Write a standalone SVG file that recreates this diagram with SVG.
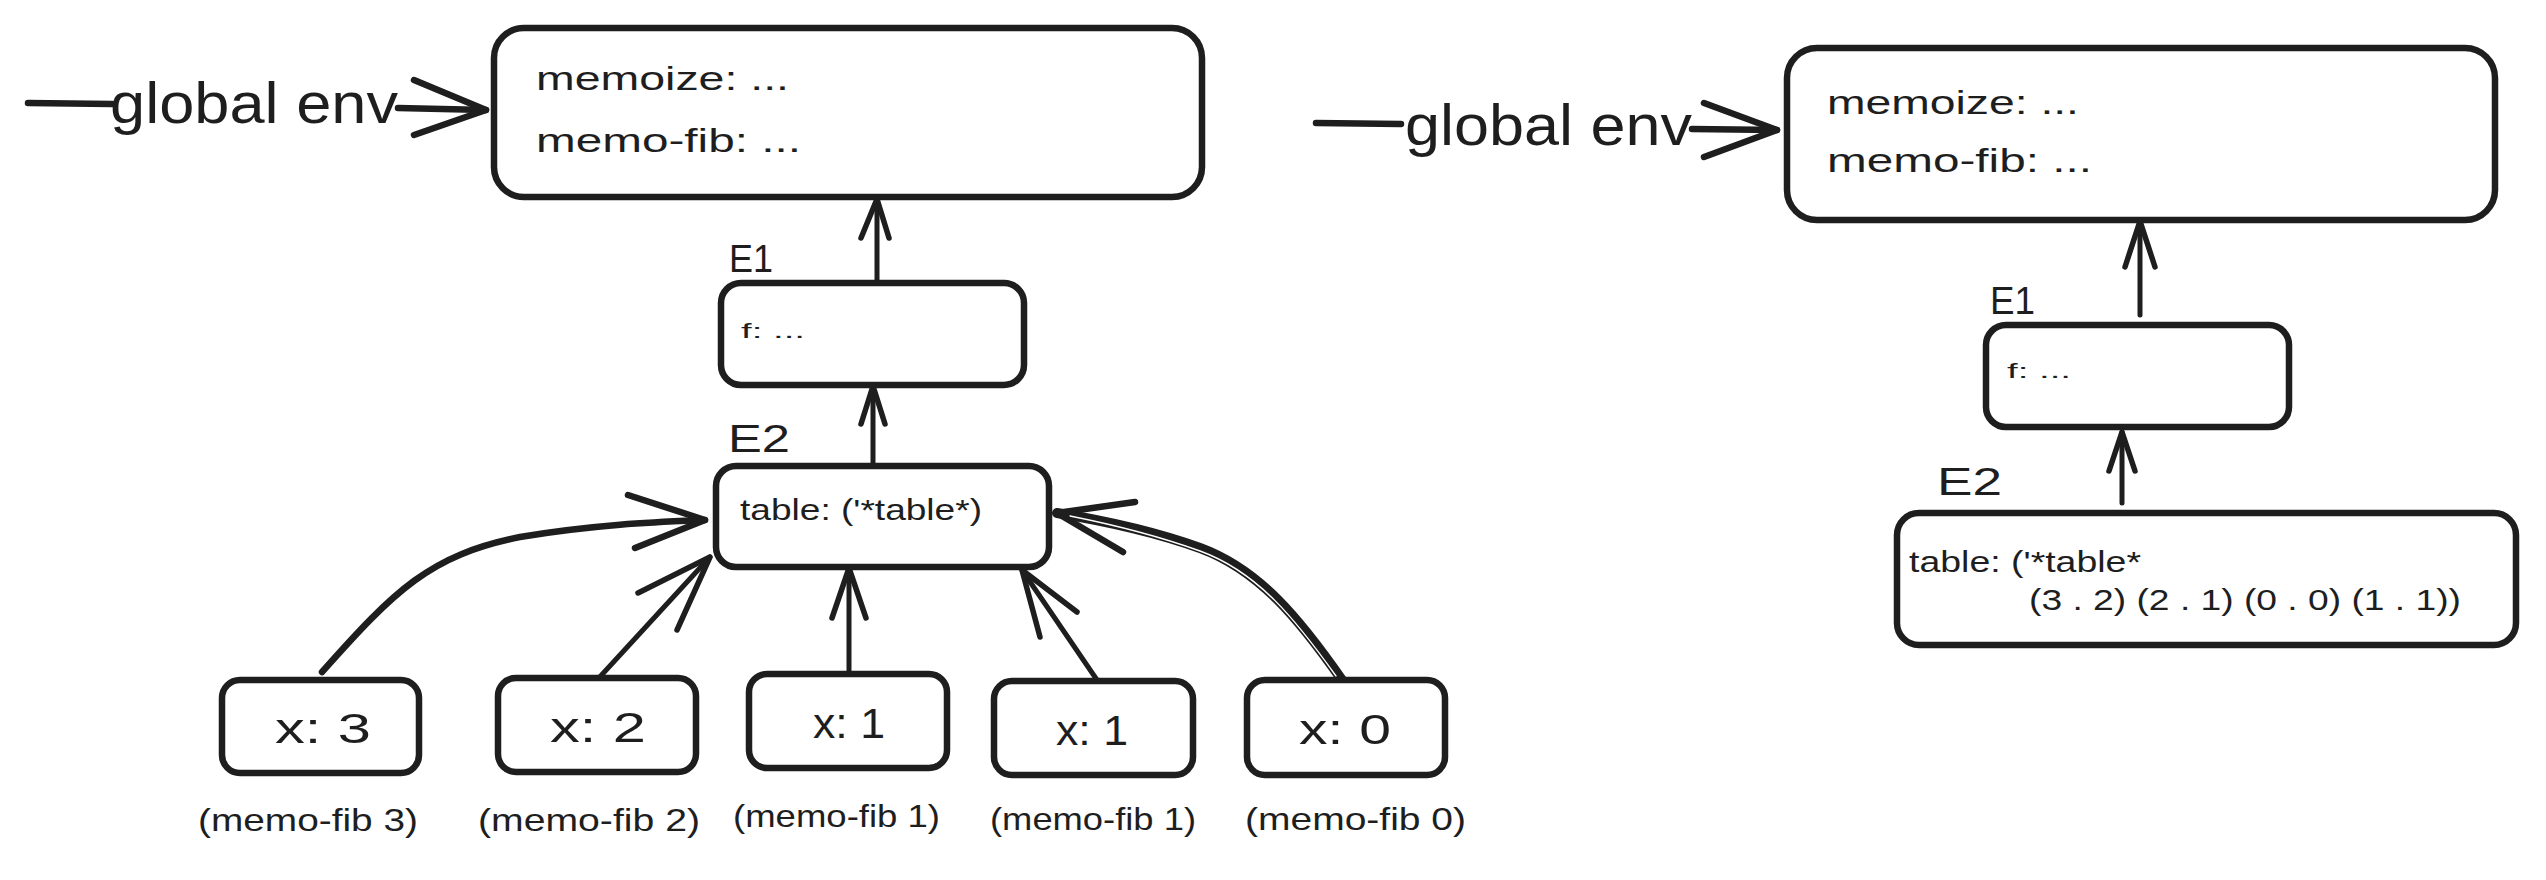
<svg xmlns="http://www.w3.org/2000/svg" width="2546" height="880" viewBox="0 0 2546 880">
<style>
.box{fill:#ffffff;stroke:#1e1e1e;stroke-width:6.5;stroke-linejoin:round}
.ln{fill:none;stroke:#1e1e1e;stroke-width:5;stroke-linecap:round;stroke-linejoin:round}
.hd{fill:none;stroke:#1e1e1e;stroke-width:5.5;stroke-linecap:round;stroke-linejoin:round}
.thick{stroke-width:6.5}
.dbl{fill:none;stroke:#1e1e1e;stroke-width:10;stroke-linecap:round}
.gap{fill:none;stroke:#ffffff;stroke-width:1.4;stroke-linecap:round}
text{font-family:"Liberation Sans","DejaVu Sans",sans-serif;fill:#1e1e1e}
.big{font-size:34px}
.lbl{font-size:38px}
.env{font-size:58px}
.sm{font-size:21px}
.tb{font-size:29px}
.xv{font-size:42px}
.call{font-size:32px}
</style>
<rect width="2546" height="880" fill="#ffffff"/>

<g id="connectors">
  <!-- left: global env pointer -->
  <g id="conn-global-left">
    <path class="ln thick" d="M28,103 L112,104"/>
    <text class="env" x="110" y="123" textLength="288" lengthAdjust="spacingAndGlyphs">global env</text>
    <path class="ln thick" d="M398,108 L486,110"/>
    <path class="hd thick" d="M414,80 L486,110 L414,135"/>
  </g>
  <!-- left: E1 -> global -->
  <path class="ln" d="M877,281 L877,199"/>
  <path class="hd" d="M861,238 L877,199 L889,238"/>
  <!-- left: E2 -> E1 -->
  <path class="ln" d="M873,465 L873,386"/>
  <path class="hd" d="M861,424 L873,386 L885,424"/>
  <!-- x:3 -> E2 -->
  <path class="ln thick" d="M322,672 C395,590 430,555 520,537 C600,524 660,522 705,520"/>
  <path class="hd thick" d="M628,495 L705,520 L635,548"/>
  <!-- x:2 -> E2 -->
  <path class="ln" d="M597,680 L710,557"/>
  <path class="hd" d="M638,593 L710,557 L677,630"/>
  <!-- x:1 -> E2 -->
  <path class="ln" d="M849,672 L849,568"/>
  <path class="hd" d="M832,618 L849,568 L866,618"/>
  <!-- x:1 -> E2 -->
  <path class="ln" d="M1097,680 L1022,570"/>
  <path class="hd" d="M1040,637 L1022,570 L1077,612"/>
  <!-- x:0 -> E2 (double stroke) -->
  <path class="dbl" d="M1342,680 C1300,620 1260,570 1200,548 C1150,530 1100,520 1057,513"/>
  <path class="gap" d="M1336,676 C1296,620 1258,572 1200,551 C1150,533 1100,522 1070,516"/>
  <path class="hd thick" d="M1135,502 L1057,513 L1123,552"/>

  <!-- right: global env pointer -->
  <g id="conn-global-right">
    <path class="ln thick" d="M1316,123 L1401,124"/>
    <text class="env" x="1405" y="145" textLength="287" lengthAdjust="spacingAndGlyphs">global env</text>
    <path class="ln thick" d="M1692,129 L1777,130"/>
    <path class="hd thick" d="M1704,103 L1777,130 L1704,157"/>
  </g>
  <!-- right: E1 -> global -->
  <path class="ln" d="M2140,315 L2140,221"/>
  <path class="hd" d="M2125,267 L2140,221 L2155,267"/>
  <!-- right: E2 -> E1 -->
  <path class="ln" d="M2122,503 L2122,432"/>
  <path class="hd" d="M2109,471 L2122,432 L2135,471"/>
</g>

<!-- LEFT SIDE -->
<g id="node-global-left">
  <rect class="box" x="494" y="28" width="708" height="169" rx="30"/>
  <text class="big" x="536" y="90" textLength="253" lengthAdjust="spacingAndGlyphs">memoize: ...</text>
  <text class="big" x="536" y="152" textLength="265" lengthAdjust="spacingAndGlyphs">memo-fib: ...</text>
</g>
<g id="node-e1-left">
  <text class="lbl" x="729" y="272" textLength="44" lengthAdjust="spacingAndGlyphs">E1</text>
  <rect class="box" x="721" y="283" width="303" height="102" rx="20"/>
  <text class="sm" x="741" y="338" textLength="64" lengthAdjust="spacingAndGlyphs">f: ...</text>
</g>
<g id="node-e2-left">
  <text class="lbl" x="728" y="452" textLength="62" lengthAdjust="spacingAndGlyphs">E2</text>
  <rect class="box" x="716" y="466" width="333" height="101" rx="20"/>
  <text class="tb" x="740" y="520" textLength="242" lengthAdjust="spacingAndGlyphs">table: ('*table*)</text>
</g>
<g id="node-x3">
  <rect class="box" x="222" y="680" width="197" height="93" rx="18"/>
  <text class="xv" x="275" y="743" textLength="96" lengthAdjust="spacingAndGlyphs">x: 3</text>
  <text class="call" x="198" y="831" textLength="220" lengthAdjust="spacingAndGlyphs">(memo-fib 3)</text>
</g>
<g id="node-x2">
  <rect class="box" x="498" y="678" width="198" height="94" rx="18"/>
  <text class="xv" x="550" y="742" textLength="96" lengthAdjust="spacingAndGlyphs">x: 2</text>
  <text class="call" x="478" y="831" textLength="222" lengthAdjust="spacingAndGlyphs">(memo-fib 2)</text>
</g>
<g id="node-x1a">
  <rect class="box" x="749" y="674" width="198" height="94" rx="18"/>
  <text class="xv" x="813" y="738" textLength="72" lengthAdjust="spacingAndGlyphs">x: 1</text>
  <text class="call" x="733" y="827" textLength="207" lengthAdjust="spacingAndGlyphs">(memo-fib 1)</text>
</g>
<g id="node-x1b">
  <rect class="box" x="994" y="681" width="199" height="94" rx="18"/>
  <text class="xv" x="1056" y="745" textLength="72" lengthAdjust="spacingAndGlyphs">x: 1</text>
  <text class="call" x="990" y="830" textLength="206" lengthAdjust="spacingAndGlyphs">(memo-fib 1)</text>
</g>
<g id="node-x0">
  <rect class="box" x="1247" y="680" width="198" height="95" rx="18"/>
  <text class="xv" x="1299" y="744" textLength="92" lengthAdjust="spacingAndGlyphs">x: 0</text>
  <text class="call" x="1245" y="830" textLength="221" lengthAdjust="spacingAndGlyphs">(memo-fib 0)</text>
</g>

<!-- RIGHT SIDE -->
<g id="node-global-right">
  <rect class="box" x="1787" y="48" width="708" height="172" rx="30"/>
  <text class="big" x="1827" y="114" textLength="252" lengthAdjust="spacingAndGlyphs">memoize: ...</text>
  <text class="big" x="1827" y="172" textLength="265" lengthAdjust="spacingAndGlyphs">memo-fib: ...</text>
</g>
<g id="node-e1-right">
  <text class="lbl" x="1990" y="314" textLength="45" lengthAdjust="spacingAndGlyphs">E1</text>
  <rect class="box" x="1986" y="325" width="303" height="102" rx="20"/>
  <text class="sm" x="2007" y="378" textLength="64" lengthAdjust="spacingAndGlyphs">f: ...</text>
</g>
<g id="node-e2-right">
  <text class="lbl" x="1937" y="495" textLength="65" lengthAdjust="spacingAndGlyphs">E2</text>
  <rect class="box" x="1897" y="513" width="619" height="132" rx="22"/>
  <text class="tb" x="1909" y="572" textLength="232" lengthAdjust="spacingAndGlyphs">table: ('*table*</text>
  <text class="tb" x="2029" y="610" textLength="432" lengthAdjust="spacingAndGlyphs">(3 . 2) (2 . 1) (0 . 0) (1 . 1))</text>
</g>
</svg>
